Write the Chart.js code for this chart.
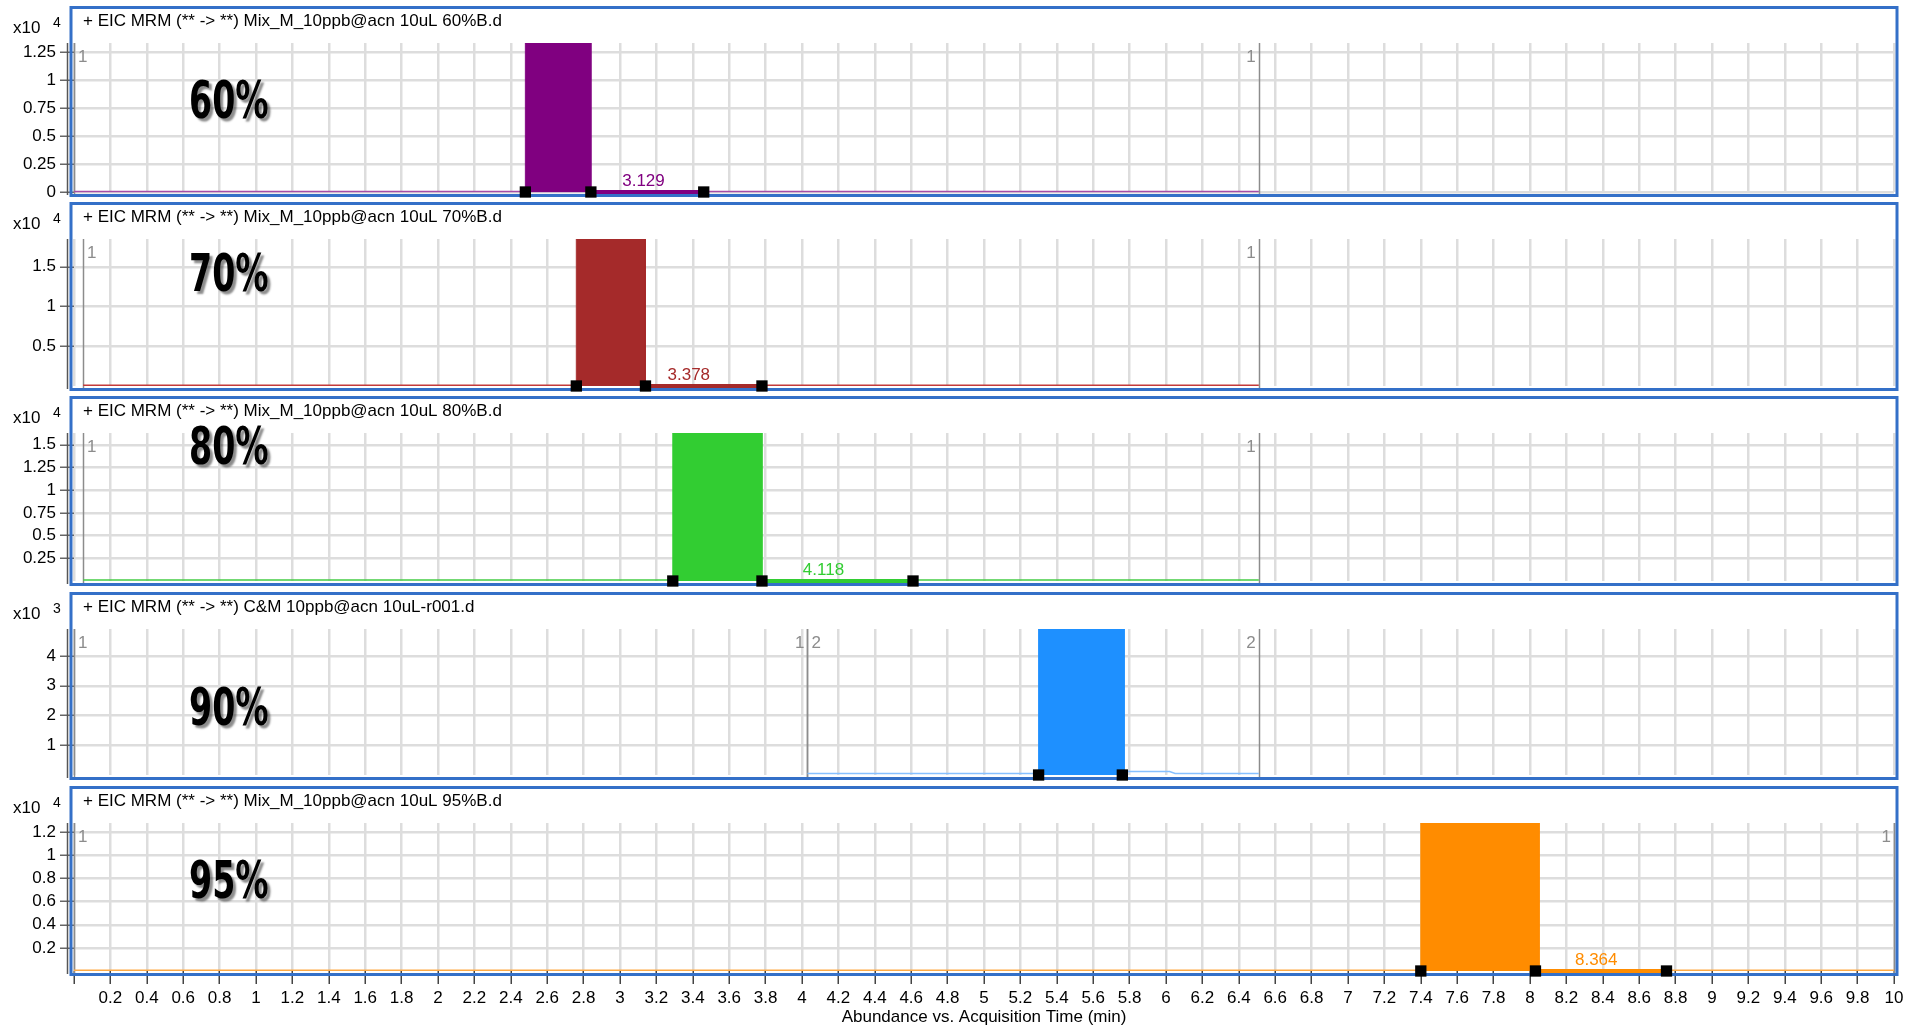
<!DOCTYPE html>
<html>
<head>
<meta charset="utf-8">
<title>EIC MRM overlays</title>
<script src="https://cdn.jsdelivr.net/npm/chart.js@4.4.1/dist/chart.umd.min.js"></script>
<style>
  html, body { margin: 0; padding: 0; background: #ffffff; }
  #wrap { position: relative; width: 1913px; height: 1029px; overflow: hidden; }
  #wrap canvas { position: absolute; left: 0; top: 0; }
</style>
</head>
<body>
<div id="wrap"></div>
<script>
// ---- data ----------------------------------------------------------------
const panelTitles = [
  '+ EIC MRM (** -> **) Mix_M_10ppb@acn 10uL 60%B.d',
  '+ EIC MRM (** -> **) Mix_M_10ppb@acn 10uL 70%B.d',
  '+ EIC MRM (** -> **) Mix_M_10ppb@acn 10uL 80%B.d',
  '+ EIC MRM (** -> **) C&M 10ppb@acn 10uL-r001.d',
  '+ EIC MRM (** -> **) Mix_M_10ppb@acn 10uL 95%B.d'
];
const panelNames = ['60%', '70%', '80%', '90%', '95%'];
const yExponents = [4, 4, 4, 3, 4];
const yMax = [1.33, 1.85, 1.63, 4.91, 1.28];
const yTicks = [
  [0, 0.25, 0.5, 0.75, 1, 1.25],
  [0.5, 1, 1.5],
  [0.25, 0.5, 0.75, 1, 1.25, 1.5],
  [1, 2, 3, 4],
  [0.2, 0.4, 0.6, 0.8, 1, 1.2]
];
// peak (start, end, height) in minutes / abundance units of each panel
const peakStart = [2.48, 2.76, 3.29, 5.30, 7.40];
const peakEnd = [2.84, 3.14, 3.78, 5.77, 8.05];
const peakHeight = [1.33, 1.85, 1.63, 4.91, 1.28];
// integration markers
const markerTimes = [
  [2.48, 2.84, 3.46],
  [2.76, 3.14, 3.78],
  [3.29, 3.78, 4.61],
  [5.30, 5.76],
  [7.40, 8.03, 8.75]
];
// retention time annotations
const rtValues = [3.129, 3.378, 4.118, null, 8.364];
const rtLabels = ['3.129', '3.378', '4.118', null, '8.364'];
// baseline trace
const traceTimes = [
  [0, 6.51],
  [0.05, 6.51],
  [0.05, 6.51],
  [4.03, 5.76, 5.78, 6.02, 6.05, 6.51],
  [0, 10]
];
const traceValues = [
  [0.004, 0.004],
  [0.01, 0.01],
  [0.01, 0.01],
  [0.05, 0.05, 0.12, 0.12, 0.05, 0.05],
  [0.006, 0.006]
];
// acquisition segments: [start, end, number]
const segments = [
  [[0, 6.51, 1]],
  [[0.05, 6.51, 1]],
  [[0.05, 6.51, 1]],
  [[0, 4.03, 1], [4.03, 6.51, 2]],
  [[0, 10, 1]]
];
const xMin = 0, xMax = 10, xStep = 0.2;
const xTitle = 'Abundance vs. Acquisition Time (min)';

// ---- styling / layout ----------------------------------------------------
const peakColors = ['#800080', '#a52a2a', '#32cd32', '#1e90ff', '#ff8c00'];
const traceColors = ['#a64ca6', '#c43a3a', '#45cc45', '#86c0ff', '#ffaa44'];
const boxTops = [6, 202, 396, 592, 786];
const boxBottoms = [197, 391, 586, 780, 976];
const nameBaselines = [112, 89, 68, 133, 112];   // offset of the big label from the box top
const W = 1913, H = 1029;
const PLOT_LEFT = 74, PLOT_RIGHT = 1894;
const BOX_LEFT = 71, BOX_RIGHT = 1897;
const FONT = "'Liberation Sans', Arial, Helvetica, sans-serif";
const GRID = '#dddddd';

function fmt(v) {
  return String(Math.round(v * 100) / 100);
}

const wrap = document.getElementById('wrap');

panelTitles.forEach((title, i) => {
  const isLast = i === panelTitles.length - 1;
  const plotTop = boxTops[i] + 37;
  const plotBottom = boxBottoms[i] - 5;

  const canvas = document.createElement('canvas');
  canvas.width = W;
  canvas.height = H;
  wrap.appendChild(canvas);

  const traceData = traceTimes[i].map((t, k) => ({ x: t, y: traceValues[i][k] }));
  const peakData = [
    { x: peakStart[i], y: 0 },
    { x: peakStart[i], y: peakHeight[i] },
    { x: peakEnd[i], y: peakHeight[i] },
    { x: peakEnd[i], y: 0 }
  ];
  const markers = markerTimes[i];
  const baselineData = markers.length > 2
    ? [{ x: markers[1], y: 0 }, { x: markers[2], y: 0 }]
    : [];
  const markerData = markers.map(t => ({ x: t, y: 0 }));

  const decor = {
    id: 'panelDecor' + i,
    beforeDatasetsDraw(chart) {
      const { ctx, chartArea: a, scales: { x } } = chart;
      ctx.save();

      // segment boundaries
      ctx.strokeStyle = '#8c8c8c';
      ctx.lineWidth = 1.5;
      segments[i].forEach(seg => {
        [seg[0], seg[1]].forEach(t => {
          const px = Math.round(x.getPixelForValue(t)) + 0.5;
          ctx.beginPath();
          ctx.moveTo(px, a.top);
          ctx.lineTo(px, a.bottom + 3);
          ctx.stroke();
        });
      });

      // y axis line
      ctx.strokeStyle = '#555555';
      ctx.beginPath();
      ctx.moveTo(67.5, a.top);
      ctx.lineTo(67.5, a.bottom + 3);
      ctx.stroke();

      // panel frame (markers are drawn over it)
      ctx.strokeStyle = '#3470c8';
      ctx.lineWidth = 3;
      ctx.strokeRect(BOX_LEFT, boxTops[i] + 1.5, BOX_RIGHT - BOX_LEFT, boxBottoms[i] - boxTops[i] - 3);

      ctx.restore();
    },
    afterDraw(chart) {
      const { ctx, chartArea: a, scales: { x, y } } = chart;
      ctx.save();

      // segment numbers
      ctx.fillStyle = '#8c8c8c';
      ctx.font = '17px ' + FONT;
      ctx.textBaseline = 'alphabetic';
      segments[i].forEach(seg => {
        const x0 = x.getPixelForValue(seg[0]);
        const x1 = x.getPixelForValue(seg[1]);
        ctx.textAlign = 'left';
        ctx.fillText(String(seg[2]), x0 + 4, a.top + 19);
        ctx.textAlign = 'right';
        ctx.fillText(String(seg[2]), x1 - 3, a.top + 19);
      });

      // retention time label
      if (rtValues[i] !== null) {
        ctx.fillStyle = peakColors[i];
        ctx.font = '17px ' + FONT;
        ctx.textAlign = 'center';
        ctx.fillText(rtLabels[i], x.getPixelForValue(rtValues[i]), y.getPixelForValue(0) - 6);
      }

      // panel title
      ctx.fillStyle = '#000000';
      ctx.font = '17px ' + FONT;
      ctx.textAlign = 'left';
      ctx.fillText(title, 83, boxTops[i] + 20);

      // exponent label
      ctx.font = '17px ' + FONT;
      ctx.fillText('x10', 13, boxTops[i] + 27);
      ctx.font = '14px ' + FONT;
      ctx.fillText(String(yExponents[i]), 53, boxTops[i] + 21);

      // big gradient label
      ctx.save();
      ctx.translate(189, boxTops[i] + nameBaselines[i]);
      ctx.scale(0.64, 1);
      ctx.font = 'bold 52px "DejaVu Sans", ' + FONT;
      ctx.shadowColor = 'rgba(0,0,0,0.45)';
      ctx.shadowOffsetX = 3;
      ctx.shadowOffsetY = 3;
      ctx.shadowBlur = 2;
      ctx.fillStyle = '#000000';
      ctx.fillText(panelNames[i], 0, 0);
      ctx.restore();

      ctx.restore();
    }
  };

  new Chart(canvas, {
    type: 'line',
    data: {
      datasets: [
        {
          label: 'markers',
          data: markerData,
          showLine: false,
          pointStyle: 'rect',
          pointRadius: 8,
          pointBackgroundColor: '#000000',
          pointBorderWidth: 0,
          clip: false,
          order: 0
        },
        {
          label: 'baseline',
          data: baselineData,
          borderColor: peakColors[i],
          borderWidth: 4,
          pointRadius: 0,
          fill: false,
          clip: false,
          order: 1
        },
        {
          label: 'peak',
          data: peakData,
          borderColor: peakColors[i],
          borderWidth: 1,
          backgroundColor: peakColors[i],
          pointRadius: 0,
          fill: 'origin',
          order: 2
        },
        {
          label: 'trace',
          data: traceData,
          borderColor: traceColors[i],
          borderWidth: 1.5,
          pointRadius: 0,
          fill: false,
          clip: false,
          order: 3
        }
      ]
    },
    options: {
      responsive: false,
      animation: false,
      devicePixelRatio: 1,
      events: [],
      layout: {
        padding: {
          left: 0,
          right: W - PLOT_RIGHT,
          top: plotTop,
          bottom: isLast ? 0 : H - plotBottom
        }
      },
      elements: { line: { tension: 0 } },
      plugins: { legend: { display: false }, tooltip: { enabled: false }, title: { display: false } },
      scales: {
        x: {
          type: 'linear',
          min: xMin,
          max: xMax,
          afterFit: s => { s.height = isLast ? H - plotBottom : 0; },
          border: { display: false },
          grid: {
            color: GRID,
            lineWidth: 2.5,
            drawTicks: isLast,
            tickLength: 13,
            tickColor: '#444444',
            tickWidth: 1.5
          },
          ticks: {
            display: isLast,
            stepSize: xStep,
            autoSkip: false,
            maxRotation: 0,
            padding: 4,
            color: '#000000',
            font: { size: 17, family: FONT },
            callback: v => (v === 0 ? '' : fmt(v))
          },
          title: {
            display: isLast,
            text: xTitle,
            color: '#000000',
            font: { size: 17, family: FONT },
            padding: { top: 0, bottom: 1 }
          }
        },
        y: {
          type: 'linear',
          min: 0,
          max: yMax[i],
          afterBuildTicks: s => { s.ticks = yTicks[i].map(v => ({ value: v })); },
          afterFit: s => { s.width = PLOT_LEFT; },
          border: { display: false },
          grid: {
            color: GRID,
            lineWidth: 2.5,
            drawTicks: true,
            tickLength: 14,
            tickColor: '#666666',
            tickWidth: 1.5
          },
          ticks: {
            color: '#000000',
            padding: 4,
            font: { size: 17, family: FONT },
            callback: v => fmt(v)
          }
        }
      }
    },
    plugins: [decor]
  });
});
</script>
</body>
</html>
